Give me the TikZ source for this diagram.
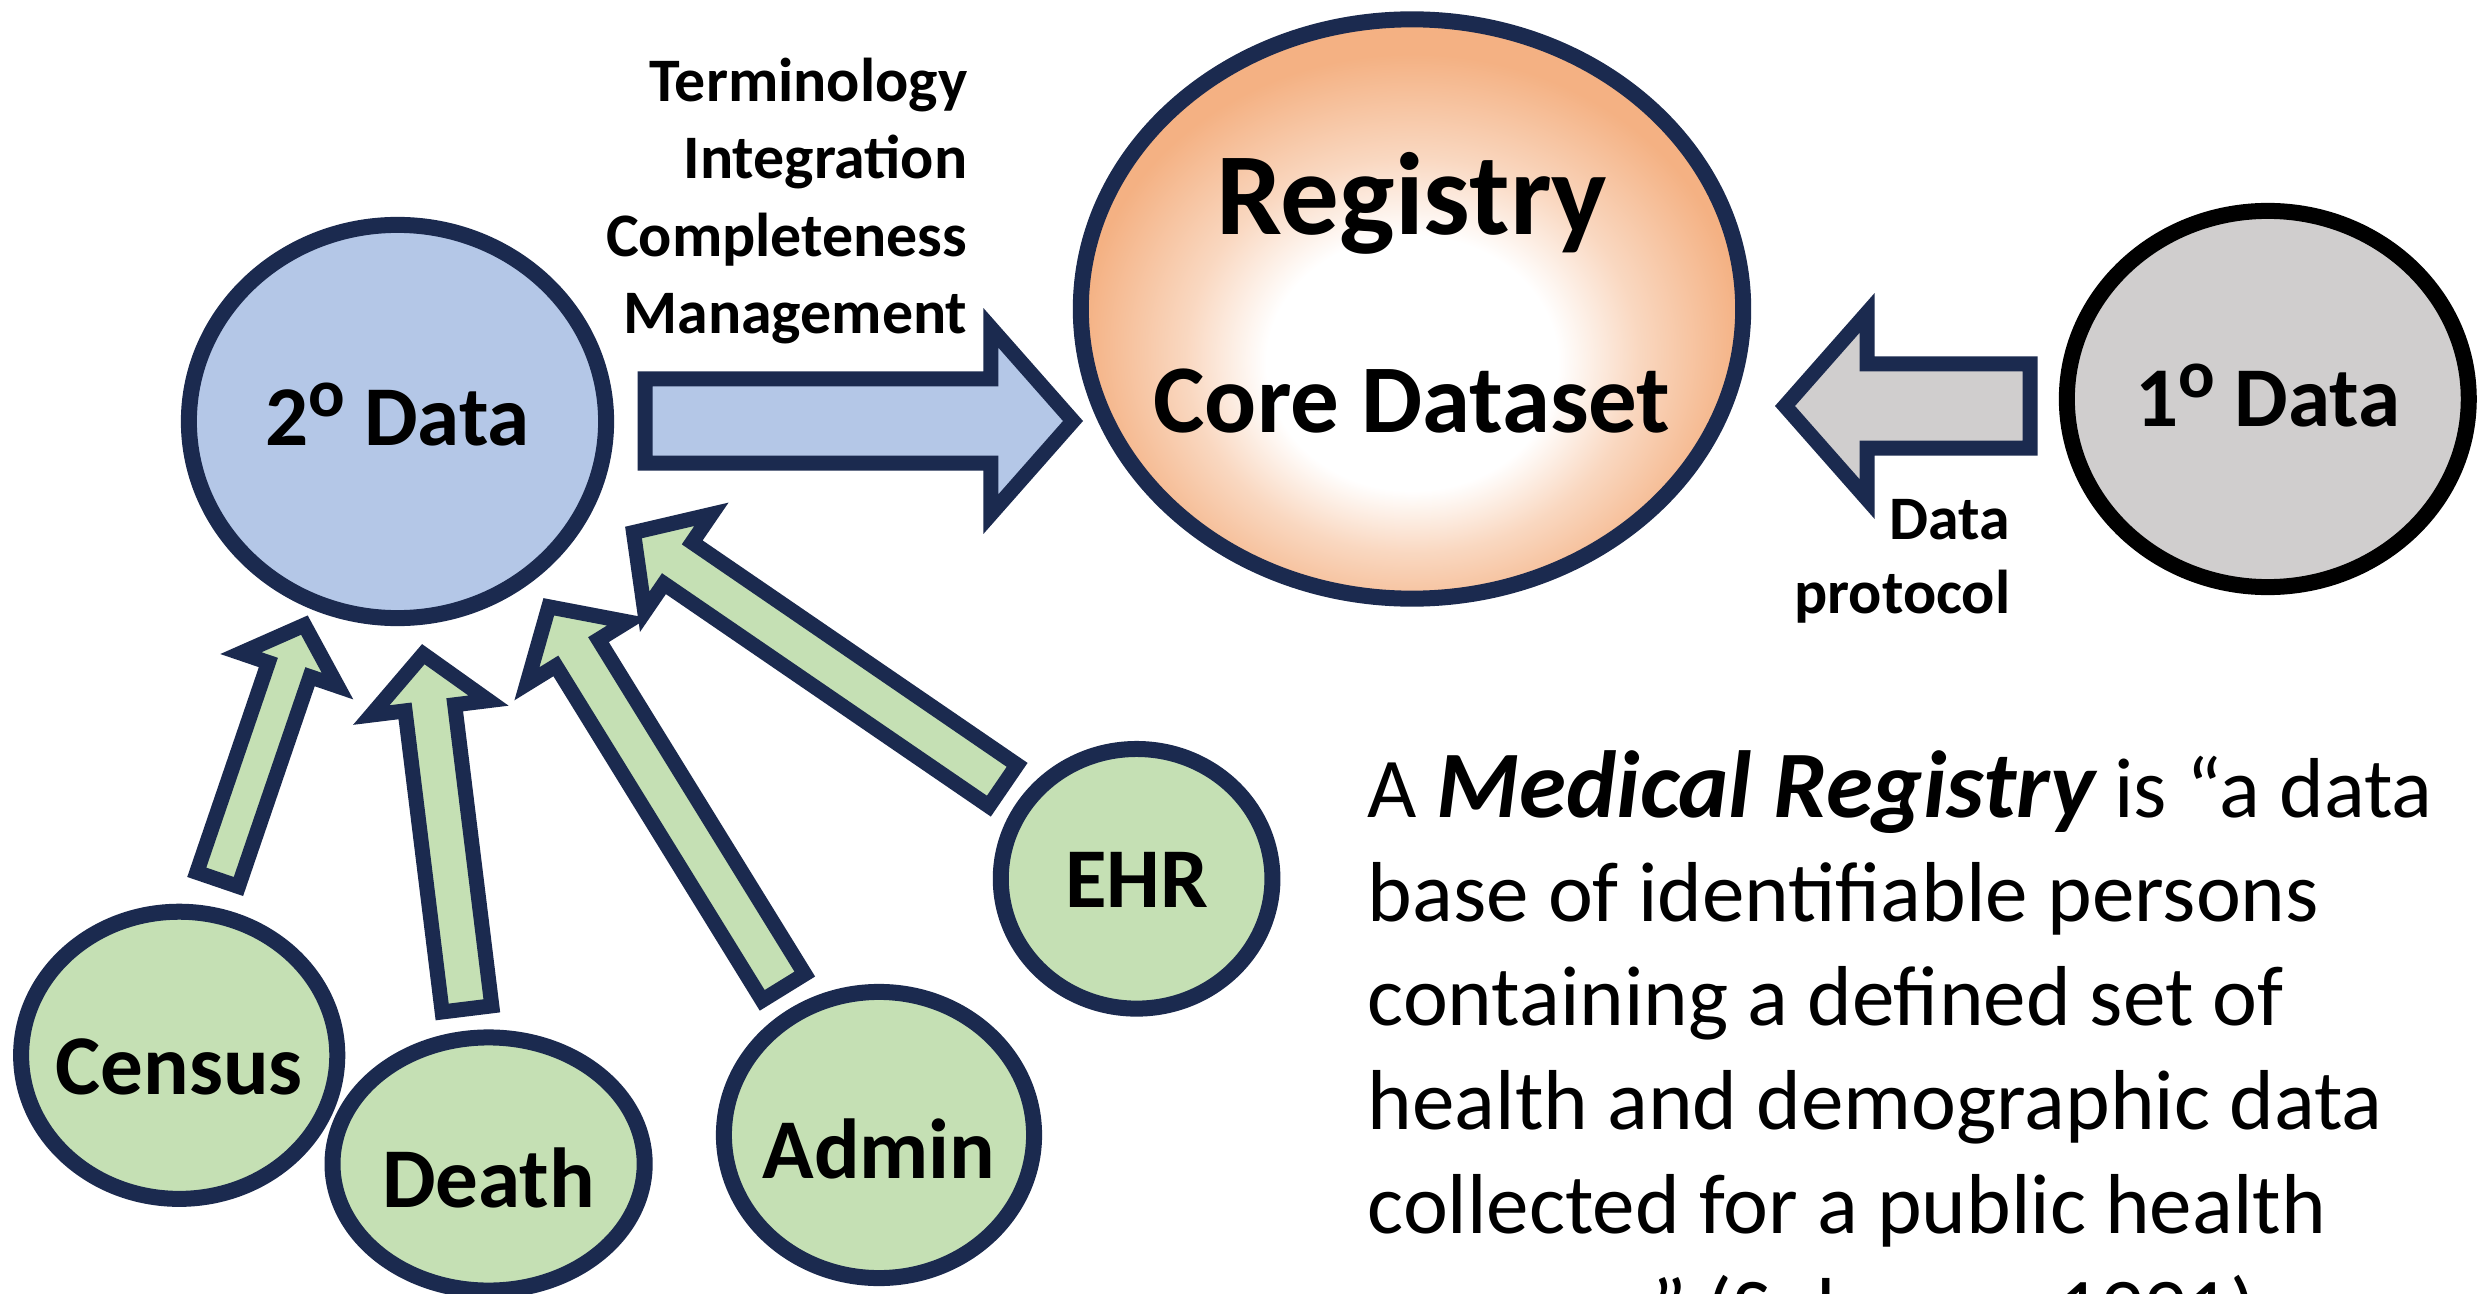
\documentclass[tikz,border=0pt]{standalone}
\usepackage{fontspec}
\setmainfont{Carlito}
\usepackage{graphicx}
\usetikzlibrary{shapes.geometric,calc}
\definecolor{navy}{HTML}{1B2A4F}
\definecolor{bluefill}{HTML}{B4C7E7}
\definecolor{greenfill}{HTML}{C5E0B4}
\definecolor{grayfill}{HTML}{D0CECE}
\definecolor{orangeedge}{HTML}{F4B183}
\pgfdeclareradialshading{regshade}{\pgfpoint{0bp}{-6bp}}{color(0bp)=(white); color(11bp)=(white); color(17bp)=(orangeedge!50!white); color(25bp)=(orangeedge); color(50bp)=(orangeedge)}
% text placed inside an ellipse: #1 text, #2 baseline offset below the centre
\newcommand\inl[2]{\raisebox{-#2}[0pt][0pt]{\makebox[0pt]{#1}}}
\newcommand\supo{\raisebox{0.34em}{\scalebox{0.8}{o}}}
% fat block arrow: #1 style, #2 tail, #3 tip, #4 shaft half width, #5 head half width, #6 head length
\newcommand\fatarrow[6]{%
  \coordinate (fan) at ($(#3)!#6!(#2)$);
  \draw[#1] ($(#2)!#4!90:(#3)$) -- ($(fan)!#4!90:(#3)$) -- ($(fan)!#5!90:(#3)$) -- (#3)
    -- ($(fan)!#5!-90:(#3)$) -- ($(fan)!#4!-90:(#3)$) -- ($(#2)!#4!-90:(#3)$) -- cycle;}
\tikzset{
  ell/.style={ellipse, draw=navy, line width=0.16cm, inner sep=0pt, outer sep=0pt},
  greenell/.style={ell, fill=greenfill, font=\bfseries\fontsize{24.2pt}{29pt}\selectfont},
  arrowline/.style={draw=navy, line width=0.15cm, line join=miter},
  bluearrow/.style={arrowline, fill=bluefill},
  grayarrow/.style={arrowline, fill=grayfill},
  greenarrow/.style={arrowline, fill=greenfill},
  lab/.style={inner sep=0pt, font=\bfseries\fontsize{17.6pt}{22pt}\selectfont},
}
\begin{document}
\begin{tikzpicture}[x=0.01cm, y=-0.01cm]
\fill[white] (0,0) rectangle (2478,1294);
\useasboundingbox (0,0) rectangle (2478,1294);

% big arrows
\coordinate (bA) at (645,421);
\coordinate (bB) at (1073,421);
\fatarrow{bluearrow}{bA}{bB}{0.42cm}{0.93cm}{0.82cm}
\coordinate (gA) at (2030,406);
\coordinate (gB) at (1785,406);
\fatarrow{grayarrow}{gA}{gB}{0.42cm}{0.93cm}{0.82cm}

% green arrows
\coordinate (cA) at (217.6,879.4);
\coordinate (cB) at (304.4,625.1);
\fatarrow{greenarrow}{cA}{cB}{0.22cm}{0.51cm}{0.47cm}
\coordinate (dA) at (467,1008.9);
\coordinate (dB) at (423.3,654.2);
\fatarrow{greenarrow}{dA}{dB}{0.25cm}{0.59cm}{0.54cm}
\coordinate (aA) at (783.5,987.2);
\coordinate (aB) at (548.8,606.8);
\fatarrow{greenarrow}{aA}{aB}{0.25cm}{0.59cm}{0.54cm}
\coordinate (eA) at (1003,785.5);
\coordinate (eB) at (633.5,532.5);
\fatarrow{greenarrow}{eA}{eB}{0.25cm}{0.59cm}{0.54cm}

% ellipses
\node[ell, fill=bluefill, minimum width=4.17cm, minimum height=3.93cm,
      font=\bfseries\fontsize{24.2pt}{29pt}\selectfont] (sec) at (397.5,421.5)
      {\inl{2\supo\ Data}{0.235cm}};
\node[ell, shading=regshade, minimum width=6.62cm, minimum height=5.79cm,
      font=\bfseries] (reg) at (1412,309)
      {\inl{\fontsize{33.3pt}{40pt}\selectfont Registry}{-0.74cm}\inl{\fontsize{27.6pt}{33pt}\selectfont Core Dataset}{1.235cm}};
\node[ell, draw=black, fill=grayfill, minimum width=4.017cm, minimum height=3.76cm,
      font=\bfseries\fontsize{24.2pt}{29pt}\selectfont] (pri) at (2267.8,399)
      {\inl{1\supo\ Data}{0.277cm}};
\node[greenell, minimum width=3.16cm, minimum height=2.87cm] (census) at (179.2,1055.3) {\inl{Census}{0.393cm}};
\node[greenell, minimum width=3.12cm, minimum height=2.53cm] (death) at (488.6,1164) {\inl{Death}{0.43cm}};
\node[greenell, minimum width=3.10cm, minimum height=2.86cm] (admin) at (879,1135) {\inl{Admin}{0.436cm}};
\node[greenell, minimum width=2.715cm, minimum height=2.595cm] (ehr) at (1136.6,878.8) {\inl{EHR}{0.282cm}};

% labels
\node[lab, anchor=base east] (issues) at (968,101.6)
  {\begin{tabular}[t]{@{}r@{}}Terminology\\Integration\\Completeness\\Management\end{tabular}};
\node[lab, anchor=base east, font=\bfseries\fontsize{17.6pt}{21.3pt}\selectfont] (proto) at (2011,539)
  {\begin{tabular}[t]{@{}r@{}}Data\\protocol\end{tabular}};

% definition text
\node[inner sep=0pt, anchor=base west, font=\fontsize{24.2pt}{29.6pt}\selectfont] (defn) at (1367,817)
  {\begin{tabular}[t]{@{}l@{}}A {\fontsize{27.1pt}{29.6pt}\selectfont\bfseries\itshape Medical Registry} is “a data\\
   base of identifiable persons\\
   containing a defined set of\\
   health and demographic data\\
   collected for a public health\\
   purpose” (Solomon 1991)\end{tabular}};
\end{tikzpicture}
\end{document}
